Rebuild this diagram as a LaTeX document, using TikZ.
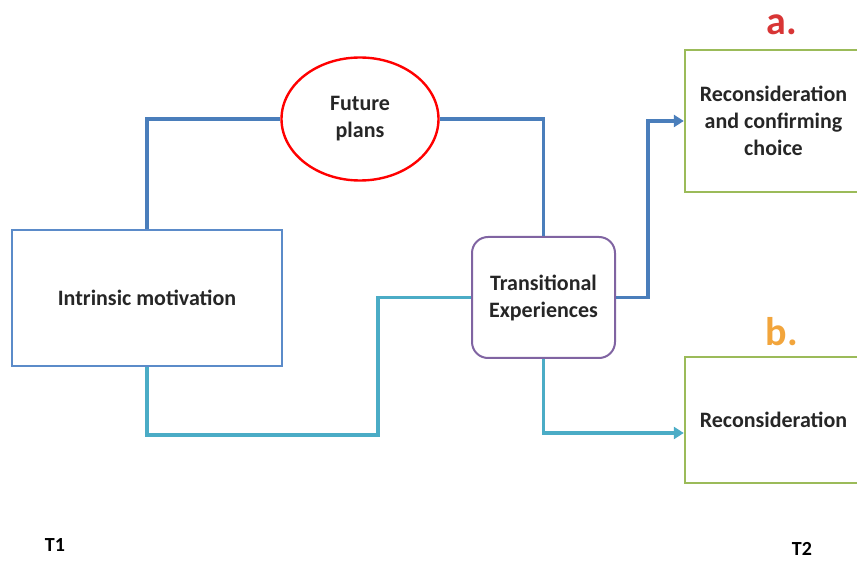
\documentclass[tikz,border=0pt]{standalone}
\usepackage{fontspec}
\setmainfont{Carlito}
\usepackage{tikz}
\usetikzlibrary{arrows.meta, shapes.geometric}

\definecolor{boxblue}{HTML}{5B8BC9}
\definecolor{lineblue}{HTML}{4A7EBB}
\definecolor{linecyan}{HTML}{4BACC6}
\definecolor{boxgreen}{HTML}{9BBB59}
\definecolor{boxpurple}{HTML}{8064A2}
\definecolor{labelred}{HTML}{D83535}
\definecolor{labelorange}{HTML}{F2A53C}

\begin{document}
\begin{tikzpicture}[x=1pt, y=-1pt]

        % Styles for the boxes and the connectors
        \tikzset{
            txt/.style={font=\fontsize{22}{27}\selectfont\bfseries, text=black!85, align=center},
            mainbox/.style={txt, draw=boxblue, line width=2.4pt, minimum width=270pt, minimum height=136pt},
            planbox/.style={txt, ellipse, draw=red, line width=2.4pt, minimum width=157pt, minimum height=123pt},
            transbox/.style={txt, draw=boxpurple, line width=2pt, rounded corners=16pt, minimum width=143pt, minimum height=121pt},
            resultbox/.style={txt, draw=boxgreen, line width=2.4pt, minimum width=177pt},
            letter/.style={font=\fontsize{40}{40}\selectfont\bfseries, anchor=base, inner sep=0pt},
            blueline/.style={draw=lineblue, line width=3.5pt},
            cyanline/.style={draw=linecyan, line width=3.5pt},
            tip/.style={-{Triangle[length=10pt, width=12pt]}}
        }

        \useasboundingbox (0, 0) rectangle (857, 561);

        % Nodes at pixel positions of the figure
        \node[mainbox] (intr) at (147, 298) {Intrinsic motivation};
        \node[planbox] (fut) at (360, 119) {Future\\plans};
        \node[transbox] (trans) at (543.5, 297.5) {Transitional\\Experiences};
        \node[resultbox, minimum height=142pt] (recA) at (773.5, 121)
            {Reconsideration\\and confirming\\choice};
        \node[resultbox, minimum height=126pt] (recB) at (773.5, 420)
            {Reconsideration};

        \node[letter, text=labelred] (lblA) at (782, 35) {a.};
        \node[letter, text=labelorange] (lblB) at (782, 345) {b.};

        \node[font=\fontsize{20}{24}\selectfont\bfseries] (tA) at (55, 545) {T1};
        \node[font=\fontsize{20}{24}\selectfont\bfseries] (tB) at (802, 549) {T2};

        % Kink points of the connectors
        \coordinate (k1) at (378, 435);
        \coordinate (k2) at (648, 297.5);

        \begin{scope}[line join=miter]
            \draw[blueline] (intr.north) |- (fut.west);
            \draw[blueline] (fut.east) -| (trans.north);
            \draw[cyanline] (intr.south) |- (k1) |- (trans.west);

            \draw[blueline, tip] (trans.east) -- (k2) |- (recA.west);
            \draw[cyanline, tip] (trans.south) |- ([yshift=-13pt]recB.west);
        \end{scope}

\end{tikzpicture}
\end{document}
